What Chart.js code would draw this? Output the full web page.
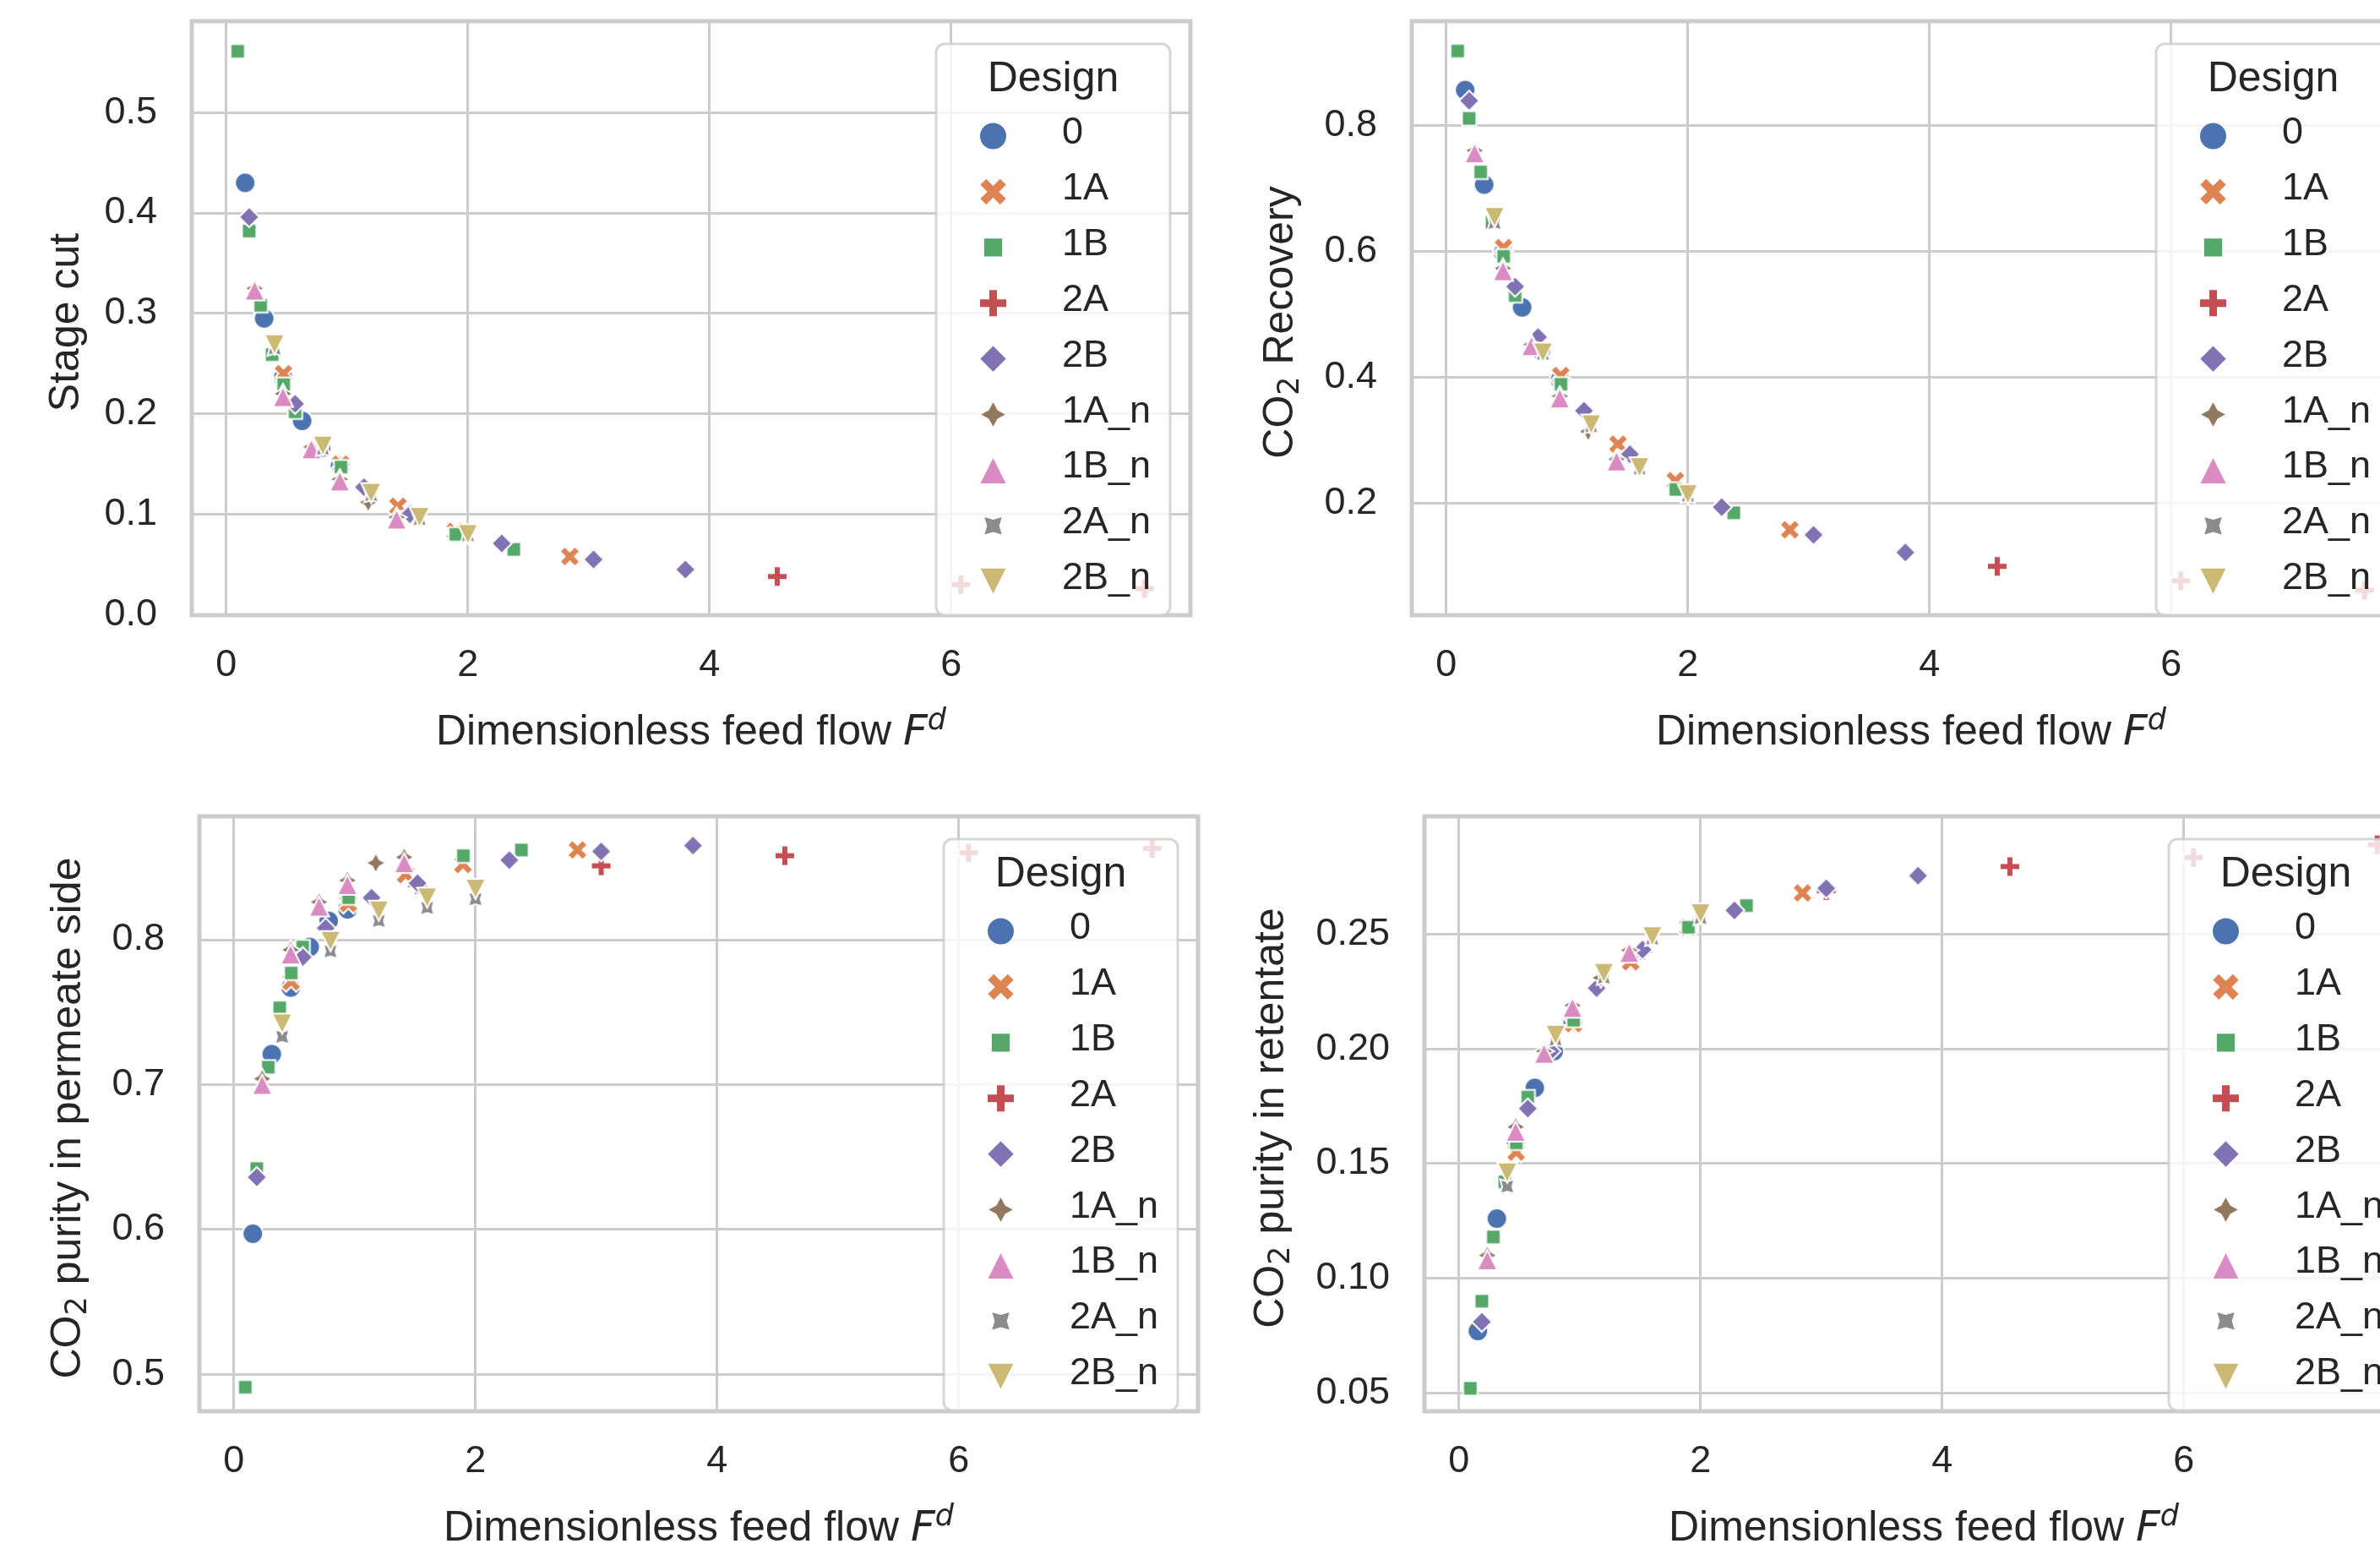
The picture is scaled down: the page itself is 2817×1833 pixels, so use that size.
<!DOCTYPE html>
<html>
<head>
<meta charset="utf-8">
<script src="https://cdn.jsdelivr.net/npm/chart.js@4.4.0/dist/chart.umd.min.js"></script>
<style>
html,body{margin:0;padding:0;background:#ffffff;overflow:hidden;width:2817px;height:1833px;position:relative}
canvas{position:absolute;display:block}
</style>
</head>
<body>
<canvas id="pTL"></canvas>
<canvas id="pTR"></canvas>
<canvas id="pBL"></canvas>
<canvas id="pBR"></canvas>
<script>
// ---------------- DATA ----------------
const DESIGNS = ['0', '1A', '1B', '2A', '2B', '1A_n', '1B_n', '2A_n', '2B_n'];

// Dimensionless feed flow F^d per design
const fd_0    = [0.157, 0.314, 0.471, 0.628, 0.785, 0.942];
const fd_1A   = [0.474, 0.948, 1.422, 1.896, 2.844];
const fd_1B   = [0.095, 0.19, 0.285, 0.38, 0.475, 0.57, 0.95, 1.90, 2.38];
const fd_2A   = [1.52, 3.04, 4.56, 6.08, 7.60];
const fd_2B   = [0.19, 0.57, 0.76, 1.14, 1.52, 2.28, 3.04, 3.80];
const fd_1A_n = [0.235, 0.47, 0.705, 0.94, 1.175, 1.41];
const fd_1B_n = [0.235, 0.47, 0.705, 0.94, 1.41];
const fd_2A_n = [0.40, 0.80, 1.20, 1.60, 2.00];
const fd_2B_n = [0.40, 0.80, 1.20, 1.60, 2.00];

// Stage cut
const stageCut_0    = [0.430, 0.295, 0.236, 0.193, 0.166, 0.148];
const stageCut_1A   = [0.240, 0.150, 0.108, 0.083, 0.058];
const stageCut_1B   = [0.561, 0.382, 0.308, 0.259, 0.229, 0.202, 0.147, 0.080, 0.065];
const stageCut_2A   = [0.100, 0.055, 0.038, 0.030, 0.026];
const stageCut_2B   = [0.396, 0.210, 0.168, 0.127, 0.100, 0.071, 0.055, 0.045];
const stageCut_1A_n = [0.325, 0.220, 0.167, 0.135, 0.112, 0.097];
const stageCut_1B_n = [0.323, 0.217, 0.165, 0.133, 0.095];
const stageCut_2A_n = [0.265, 0.165, 0.119, 0.095, 0.079];
const stageCut_2B_n = [0.269, 0.168, 0.121, 0.097, 0.080];

// CO2 recovery
const recovery_0    = [0.856, 0.706, 0.598, 0.511, 0.443, 0.396];
const recovery_1A   = [0.606, 0.403, 0.294, 0.236, 0.158];
const recovery_1B   = [0.918, 0.811, 0.726, 0.646, 0.592, 0.530, 0.389, 0.222, 0.185];
const recovery_2A   = [0.278, 0.150, 0.100, 0.077, 0.062];
const recovery_2B   = [0.839, 0.544, 0.464, 0.347, 0.278, 0.194, 0.150, 0.122];
const recovery_1A_n = [0.760, 0.573, 0.452, 0.370, 0.314, 0.270];
const recovery_1B_n = [0.756, 0.569, 0.450, 0.367, 0.267];
const recovery_2A_n = [0.645, 0.437, 0.322, 0.255, 0.212];
const recovery_2B_n = [0.654, 0.439, 0.325, 0.257, 0.214];

// CO2 purity in permeate side
const permPurity_0    = [0.597, 0.721, 0.767, 0.795, 0.813, 0.821];
const permPurity_1A   = [0.771, 0.825, 0.845, 0.852, 0.862];
const permPurity_1B   = [0.491, 0.642, 0.712, 0.753, 0.777, 0.795, 0.829, 0.858, 0.862];
const permPurity_2A   = [0.838, 0.851, 0.858, 0.860, 0.863];
const permPurity_2B   = [0.636, 0.788, 0.808, 0.829, 0.839, 0.855, 0.861, 0.865];
const permPurity_1A_n = [0.704, 0.793, 0.826, 0.841, 0.853, 0.857];
const permPurity_1B_n = [0.700, 0.790, 0.823, 0.838, 0.853];
const permPurity_2A_n = [0.733, 0.792, 0.813, 0.822, 0.828];
const permPurity_2B_n = [0.742, 0.799, 0.820, 0.829, 0.835];

// CO2 purity in retentate
const retPurity_0    = [0.077, 0.126, 0.160, 0.183, 0.199, 0.212];
const retPurity_1A   = [0.155, 0.211, 0.238, 0.253, 0.268];
const retPurity_1B   = [0.052, 0.090, 0.118, 0.142, 0.159, 0.179, 0.2125, 0.253, 0.2625];
const retPurity_2A   = [0.243, 0.269, 0.2795, 0.2835, 0.289];
const retPurity_2B   = [0.081, 0.174, 0.199, 0.2265, 0.2433, 0.2604, 0.270, 0.2755];
const retPurity_1A_n = [0.110, 0.166, 0.199, 0.219, 0.231, 0.243];
const retPurity_1B_n = [0.108, 0.164, 0.198, 0.218, 0.242];
const retPurity_2A_n = [0.140, 0.204, 0.231, 0.248, 0.257];
const retPurity_2B_n = [0.146, 0.206, 0.233, 0.249, 0.259];

// Tick labels
const X_TICKS = [0, 2, 4, 6];
const Y_TICKS_STAGECUT = [0.0, 0.1, 0.2, 0.3, 0.4, 0.5];
const Y_TICKS_RECOVERY = [0.2, 0.4, 0.6, 0.8];
const Y_TICKS_PERM = [0.5, 0.6, 0.7, 0.8];
const Y_TICKS_RET = [0.05, 0.10, 0.15, 0.20, 0.25];

// ---------------- STYLE ----------------
const COLORS = ['#4C72B0', '#DD8452', '#55A868', '#C44E52', '#8172B3', '#937860', '#DA8BC3', '#8C8C8C', '#CCB974'];
const MARKERS = ['circle', 'xfill', 'square', 'plusfill', 'diamond', 'star4', 'triUp', 'star4r', 'triDown'];
const FF = "'Liberation Sans', Arial, sans-serif";
const TEXT = '#262626';
const GRID = '#cccccc';

const FD = [fd_0, fd_1A, fd_1B, fd_2A, fd_2B, fd_1A_n, fd_1B_n, fd_2A_n, fd_2B_n];
const SC = [stageCut_0, stageCut_1A, stageCut_1B, stageCut_2A, stageCut_2B, stageCut_1A_n, stageCut_1B_n, stageCut_2A_n, stageCut_2B_n];
const REC = [recovery_0, recovery_1A, recovery_1B, recovery_2A, recovery_2B, recovery_1A_n, recovery_1B_n, recovery_2A_n, recovery_2B_n];
const PERM = [permPurity_0, permPurity_1A, permPurity_1B, permPurity_2A, permPurity_2B, permPurity_1A_n, permPurity_1B_n, permPurity_2A_n, permPurity_2B_n];
const RET = [retPurity_0, retPurity_1A, retPurity_1B, retPurity_2A, retPurity_2B, retPurity_1A_n, retPurity_1B_n, retPurity_2A_n, retPurity_2B_n];

function markerPath(ctx, shape, d) {
  ctx.beginPath();
  const poly = pts => {
    pts.forEach((p, i) => i ? ctx.lineTo(p[0] * d, p[1] * d) : ctx.moveTo(p[0] * d, p[1] * d));
    ctx.closePath();
  };
  switch (shape) {
    case 'circle': ctx.arc(0, 0, d / 2, 0, Math.PI * 2); break;
    case 'xfill': poly([[-1,-2],[0,-1],[1,-2],[2,-1],[1,0],[2,1],[1,2],[0,1],[-1,2],[-2,1],[-1,0],[-2,-1]].map(p => [p[0]/4, p[1]/4])); break;
    case 'square': { const s = 0.5 * Math.SQRT1_2; poly([[-s,-s],[s,-s],[s,s],[-s,s]]); break; }
    case 'plusfill': poly([[-1,-3],[1,-3],[1,-1],[3,-1],[3,1],[1,1],[1,3],[-1,3],[-1,1],[-3,1],[-3,-1],[-1,-1]].map(p => [p[0]/6, p[1]/6])); break;
    case 'diamond': poly([[0,-0.5],[0.5,0],[0,0.5],[-0.5,0]]); break;
    case 'star4':
    case 'star4r': {
      const off = shape === 'star4' ? 90 : 135; const pts = [];
      for (let k = 0; k < 8; k++) { const a = (off + k * 45) * Math.PI / 180; const r = k % 2 ? 0.25 : 0.5; pts.push([r * Math.cos(a), -r * Math.sin(a)]); }
      poly(pts); break;
    }
    case 'triUp': poly([[0,-0.5],[-0.5,0.5],[0.5,0.5]]); break;
    case 'triDown': poly([[0,0.5],[-0.5,-0.5],[0.5,-0.5]]); break;
  }
}
function drawMarker(ctx, shape, color, x, y, d, lw) {
  ctx.save();
  ctx.translate(x, y);
  markerPath(ctx, shape, d);
  ctx.fillStyle = color; ctx.fill();
  ctx.lineWidth = lw; ctx.strokeStyle = '#ffffff'; ctx.lineJoin = 'miter'; ctx.stroke();
  ctx.restore();
}
function markerCanvas(shape, color, d, lw) {
  const s = Math.ceil(d + lw + 6);
  const c = document.createElement('canvas');
  c.width = s; c.height = s;
  drawMarker(c.getContext('2d'), shape, color, s / 2, s / 2, d, lw);
  return c;
}
const POINT_IMGS = MARKERS.map((m, i) => markerCanvas(m, COLORS[i], 24, 2));

function richWidth(ctx, segs) { let w = 0; segs.forEach(s => { ctx.font = s.font; w += ctx.measureText(s.t).width; }); return w; }
function drawRich(ctx, segs, x, y) {
  segs.forEach(s => { ctx.font = s.font; ctx.fillText(s.t, x, y + (s.dy || 0)); x += ctx.measureText(s.t).width; });
}
const F_LABEL = `50px ${FF}`;
const F_SUB = `35px 'DejaVu Sans'`;
const F_IT = `italic 50px 'DejaVu Sans'`;
const F_SUP = `italic 35px 'DejaVu Sans'`;
const X_TITLE = [{t: 'Dimensionless feed flow ', font: F_LABEL}, {t: 'F', font: F_IT}, {t: 'd', font: F_SUP, dy: -18}];
const co2 = rest => [{t: 'CO', font: F_LABEL}, {t: '2', font: F_SUB, dy: 7}, {t: rest, font: F_LABEL}];

function drawLegend(ctx, L, T) {
  const W = 277, H = 676;
  ctx.save();
  ctx.beginPath();
  ctx.roundRect(L, T, W, H, 10);
  ctx.fillStyle = 'rgba(255,255,255,0.8)'; ctx.fill();
  ctx.lineWidth = 3; ctx.strokeStyle = 'rgba(204,204,204,0.8)'; ctx.stroke();
  ctx.fillStyle = TEXT;
  ctx.textBaseline = 'alphabetic';
  ctx.textAlign = 'center';
  ctx.font = `50px ${FF}`;
  ctx.fillText('Design', L + W / 2, T + 56);
  ctx.textAlign = 'left';
  DESIGNS.forEach((name, i) => {
    const cy = T + 109 + 65.9 * i;
    drawMarker(ctx, MARKERS[i], COLORS[i], L + 67.5, cy, 33, 2);
    ctx.fillStyle = TEXT;
    ctx.font = `45px ${FF}`;
    ctx.fillText(name, L + 149, cy + 9);
  });
  ctx.restore();
}

const PANELS = [
  {id: 'pTL', cx: 0, cy: 0, cw: 1440, ch: 916, L: 227, T: 25, R: 1409, B: 728,
   Y: SC, ymin: -0.0005, ymax: 0.591, yticks: Y_TICKS_STAGECUT, dec: 1,
   ytitle: [{t: 'Stage cut', font: F_LABEL}], ytRel: -134},
  {id: 'pTR', cx: 1440, cy: 0, cw: 1440, ch: 916, L: 1671, T: 25, R: 2853, B: 728,
   Y: REC, ymin: 0.0224, ymax: 0.9654, yticks: Y_TICKS_RECOVERY, dec: 1,
   ytitle: co2(' Recovery'), ytRel: -141},
  {id: 'pBL', cx: 0, cy: 916, cw: 1440, ch: 917, L: 236, T: 966, R: 1418, B: 1670,
   Y: PERM, ymin: 0.4744, ymax: 0.8852, yticks: Y_TICKS_PERM, dec: 1,
   ytitle: co2(' purity in permeate side'), ytRel: -141},
  {id: 'pBR', cx: 1440, cy: 916, cw: 1440, ch: 917, L: 1686, T: 966, R: 2868, B: 1670,
   Y: RET, ymin: 0.042, ymax: 0.3014, yticks: Y_TICKS_RET, dec: 2,
   ytitle: co2(' purity in retentate'), ytRel: -167}
];

Chart.defaults.font.family = FF;
Chart.defaults.color = TEXT;

function zeroPad(s) { s.paddingTop = 0; s.paddingBottom = 0; s.paddingLeft = 0; s.paddingRight = 0; }

PANELS.forEach(p => {
  const cv = document.getElementById(p.id);
  cv.width = p.cw; cv.height = p.ch;
  cv.style.left = p.cx + 'px'; cv.style.top = p.cy + 'px';
  cv.style.width = p.cw + 'px'; cv.style.height = p.ch + 'px';
  const yW = p.L - p.cx, xH = p.cy + p.ch - p.B, padTop = p.T - p.cy, padRight = p.cx + p.cw - p.R;

  const datasets = DESIGNS.map((name, i) => ({
    label: name,
    data: FD[i].map((x, j) => ({x: x, y: p.Y[i][j]})),
    pointStyle: POINT_IMGS[i],
    pointRadius: 12,
    pointHoverRadius: 12,
    showLine: false,
    order: DESIGNS.length - 1 - i
  }));

  const decor = {
    id: 'decor' + p.id,
    afterDatasetsDraw(chart) {
      const ctx = chart.ctx, a = chart.chartArea;
      ctx.save();
      ctx.lineWidth = 5; ctx.strokeStyle = GRID;
      ctx.strokeRect(a.left, a.top, a.right - a.left, a.bottom - a.top);
      ctx.restore();
      drawLegend(ctx, a.left + 881, a.top + 27);
    },
    afterDraw(chart) {
      const ctx = chart.ctx, a = chart.chartArea;
      ctx.save();
      ctx.fillStyle = TEXT; ctx.textAlign = 'left'; ctx.textBaseline = 'alphabetic';
      const wx = richWidth(ctx, X_TITLE);
      drawRich(ctx, X_TITLE, (a.left + a.right) / 2 - wx / 2, a.bottom + 153);
      const wy = richWidth(ctx, p.ytitle);
      ctx.translate(a.left + p.ytRel, (a.top + a.bottom) / 2 + 5);
      ctx.rotate(-Math.PI / 2);
      drawRich(ctx, p.ytitle, -wy / 2, 0);
      ctx.restore();
    }
  };

  new Chart(cv, {
    type: 'scatter',
    data: {datasets},
    options: {
      responsive: false,
      maintainAspectRatio: false,
      devicePixelRatio: 1,
      animation: false,
      events: [],
      layout: {autoPadding: false, padding: {top: padTop, right: padRight, bottom: 0, left: 0}},
      plugins: {legend: {display: false}, tooltip: {enabled: false}},
      scales: {
        x: {
          type: 'linear', min: -0.285, max: 7.98,
          afterBuildTicks: s => { s.ticks = X_TICKS.map(v => ({value: v})); },
          afterFit: s => { s.height = xH; zeroPad(s); },
          grid: {color: GRID, lineWidth: 3, drawTicks: false},
          border: {display: false},
          ticks: {padding: 33, color: TEXT, font: {family: FF, size: 45}, maxRotation: 0, autoSkip: false,
                  callback: v => String(v)}
        },
        y: {
          type: 'linear', min: p.ymin, max: p.ymax,
          afterBuildTicks: s => { s.ticks = p.yticks.map(v => ({value: v})); },
          afterFit: s => { s.width = yW; zeroPad(s); },
          grid: {color: GRID, lineWidth: 3, drawTicks: false},
          border: {display: false},
          ticks: {padding: 41, color: TEXT, font: {family: FF, size: 45}, autoSkip: false,
                  callback: v => Number(v).toFixed(p.dec)}
        }
      }
    },
    plugins: [decor]
  });
});
</script>
</body>
</html>
